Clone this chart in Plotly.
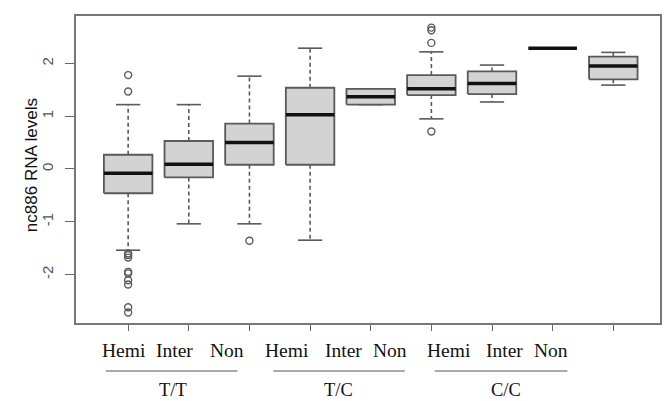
import plotly.graph_objects as go

# ---- data ----
positions = [1, 2, 3, 4, 5, 6, 7, 8, 9]
subgroups = ["Hemi", "Inter", "Non", "Hemi", "Inter", "Non", "Hemi", "Inter", "Non"]
genotypes = ["T/T", "T/C", "C/C"]
q1 = [-0.46, -0.16, 0.08, 0.08, 1.22, 1.40, 1.42, 2.29, 1.70]
median = [-0.08, 0.09, 0.50, 1.03, 1.37, 1.52, 1.62, 2.29, 1.95]
q3 = [0.27, 0.53, 0.86, 1.54, 1.52, 1.78, 1.85, 2.29, 2.13]
lower_whisker = [-1.54, -1.04, -1.04, -1.35, 1.22, 0.95, 1.27, 2.29, 1.59]
upper_whisker = [1.22, 1.22, 1.76, 2.29, 1.52, 2.22, 1.97, 2.29, 2.21]
outlier_pos = [1] * 11 + [3] + [6] * 4
outlier_val = [1.78, 1.47, -1.60, -1.63, -1.68, -1.95, -1.98, -2.11, -2.19, -2.62, -2.72,
               -1.36,
               2.39, 2.63, 2.68, 0.71]
y_ticks = [-2, -1, 0, 1, 2]

BOX_HALF = 0.4
CAP_HALF = 0.2
EDGE = "#5a5a5a"

bx, by, wx, wy, cx, cy, mx, my = [], [], [], [], [], [], [], []
for p, a, m, b, lo, hi in zip(positions, q1, median, q3, lower_whisker, upper_whisker):
    bx += [p - BOX_HALF, p + BOX_HALF, p + BOX_HALF, p - BOX_HALF, p - BOX_HALF, None]
    by += [a, a, b, b, a, None]
    wx += [p, p, None, p, p, None]
    wy += [b, hi, None, a, lo, None]
    cx += [p - CAP_HALF, p + CAP_HALF, None, p - CAP_HALF, p + CAP_HALF, None]
    cy += [hi, hi, None, lo, lo, None]
    mx += [p - BOX_HALF, p + BOX_HALF, None]
    my += [m, m, None]

fig = go.Figure()
fig.add_trace(go.Scatter(x=wx, y=wy, mode="lines", line=dict(color=EDGE, width=1.6, dash="4px,3px"),
                         hoverinfo="skip"))
fig.add_trace(go.Scatter(x=cx, y=cy, mode="lines", line=dict(color=EDGE, width=1.6), hoverinfo="skip"))
fig.add_trace(go.Scatter(x=bx, y=by, mode="lines", fill="toself", fillcolor="#d3d3d3",
                         line=dict(color=EDGE, width=1.8), hoverinfo="skip"))
fig.add_trace(go.Scatter(x=mx, y=my, mode="lines", line=dict(color="#111111", width=3.5), hoverinfo="skip"))
fig.add_trace(go.Scatter(x=outlier_pos, y=outlier_val, mode="markers",
                         marker=dict(symbol="circle-open", size=7, color=EDGE, line=dict(width=1.4))))

L, R, T, B = 76, 662, 16, 323
W, H = 665, 401

fig.update_layout(
    width=W, height=H, showlegend=False,
    margin=dict(l=L, r=W - R, t=T, b=H - B),
    paper_bgcolor="white", plot_bgcolor="white",
    xaxis=dict(range=[0.14, 9.77], tickvals=positions, ticktext=[""] * 9, ticks="outside",
               ticklen=6, tickcolor="#666", tickwidth=1.3, showgrid=False, zeroline=False,
               showline=True, linecolor="#777", linewidth=1.5, mirror=True),
    yaxis=dict(range=[-2.92, 2.90], tickvals=y_ticks, ticktext=[str(v) for v in y_ticks],
               tickangle=-90, ticks="outside", ticklen=9, tickcolor="#666", tickwidth=1.3,
               ticklabelstandoff=6,
               tickfont=dict(family="Liberation Sans", size=15, color="#555"),
               showgrid=False, zeroline=False, showline=True, linecolor="#777", linewidth=1.5,
               mirror=True),
)


def px_x(px):
    return (px - L) / (R - L)


def px_y(py):
    return (B - py) / (B - T)


ann = []
ann.append(dict(text="nc886 RNA levels", x=px_x(31), y=px_y(165), xref="paper", yref="paper",
                textangle=-90, showarrow=False, xanchor="center", yanchor="middle",
                font=dict(family="Liberation Sans", size=17, color="#111")))
label_px = [124.5, 175, 228, 288, 344, 391, 450, 506, 553]
for name, lx in zip(subgroups, label_px):
    ann.append(dict(text=name, x=px_x(lx), y=px_y(350), xref="paper", yref="paper", showarrow=False,
                    xanchor="center", yanchor="middle",
                    font=dict(family="Liberation Serif", size=19.5, color="#111")))
group_px = [173, 339, 507]
for g, gx in zip(genotypes, group_px):
    ann.append(dict(text=g, x=px_x(gx), y=px_y(390), xref="paper", yref="paper", showarrow=False,
                    xanchor="center", yanchor="middle",
                    font=dict(family="Liberation Serif", size=18.5, color="#111")))
fig.update_layout(annotations=ann)

lines_px = [(106, 238), (274, 406), (436, 569)]
for a, b in lines_px:
    fig.add_shape(type="line", xref="paper", yref="paper", x0=px_x(a), x1=px_x(b),
                  y0=px_y(371), y1=px_y(371), line=dict(color="#555", width=1.2))

fig.write_html("out.html", config={"displayModeBar": False},
               post_script="document.body.style.margin='0';document.body.style.overflow='hidden';")
